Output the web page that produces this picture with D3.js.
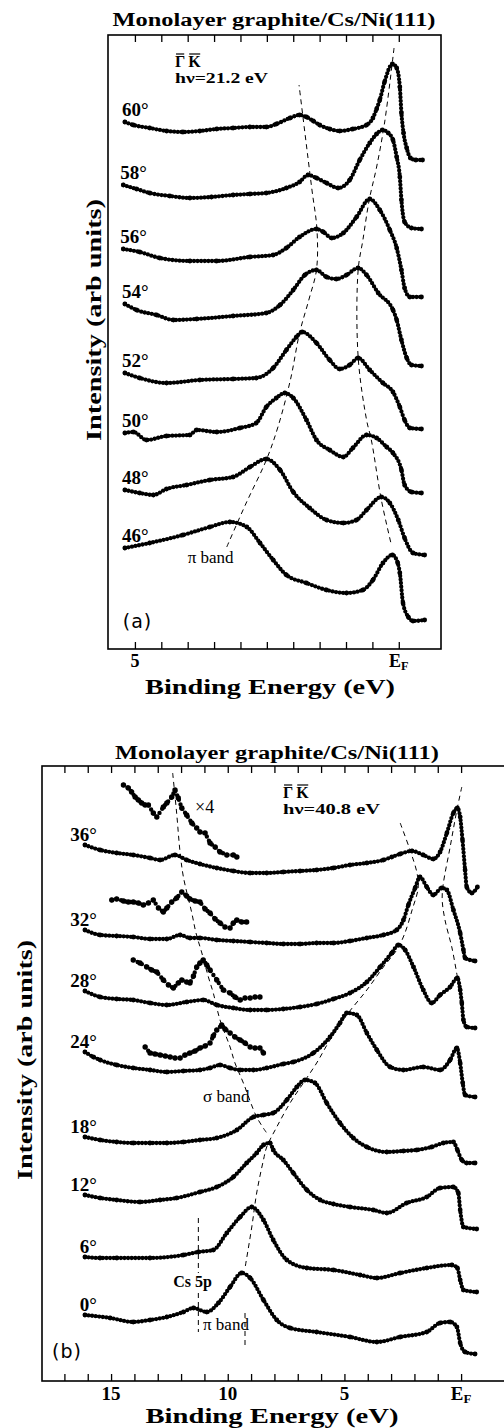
<!DOCTYPE html>
<html>
<head>
<meta charset="utf-8">
<script src="https://cdn.jsdelivr.net/npm/d3@7"></script>
<style>
  body { margin: 0; background: #fff; }
  svg { display: block; }
  .frame { fill: none; stroke: #000; stroke-width: 1.6; }
  .guide { fill: none; stroke: #000; stroke-width: 1; stroke-dasharray: 5,4; }
  .spec-core { fill: none; stroke: #000; stroke-width: 1.5; }
  .spec-beads { fill: none; stroke: #000; stroke-width: 4.3; stroke-linecap: round; stroke-dasharray: 0,3.6; }
  .inset-beads { fill: none; stroke: #000; stroke-width: 4.4; stroke-linecap: round; stroke-dasharray: 0,4.8; }
  .serif-b { font-family: 'Liberation Serif', serif; font-weight: bold; }
  .serif { font-family: 'Liberation Serif', serif; }
  .sans { font-family: 'DejaVu Sans', sans-serif; }
</style>
</head>
<body>
<svg id="fig" width="504" height="1428"></svg>
<script>

// ---- panel (a) : hv = 21.2 eV, [binding energy (eV), intensity (arb, stacked)]
var anglesA = ['60°', '58°', '56°', '54°', '52°', '50°', '48°', '46°'];

var a60 = [[5.19,527],[5.03,524],[4.72,521],[4.40,518],[4.09,517],[3.77,518],[3.45,520],[3.14,521],[2.82,522],[2.51,522],[2.32,525],[2.06,531],[1.88,534],[1.75,532],[1.62,528],[1.50,524],[1.31,520],[1.12,518],[0.87,520],[0.61,524],[0.49,531],[0.42,540],[0.36,549],[0.27,567],[0.12,585],[0.04,581],[-0.02,562],[-0.05,536],[-0.09,516],[-0.15,501],[-0.22,491],[-0.32,489],[-0.45,489]];
var a58 = [[5.22,464],[4.97,460],[4.72,456],[4.34,453],[3.96,451],[3.55,452],[3.14,454],[2.82,455],[2.51,456],[2.13,461],[1.88,467],[1.72,474],[1.56,471],[1.37,466],[1.15,461],[0.93,469],[0.74,489],[0.55,506],[0.42,515],[0.31,519],[0.20,516],[0.11,509],[0.04,492],[-0.02,472],[-0.05,449],[-0.11,427],[-0.24,421],[-0.43,420]];
var a56 = [[5.22,400],[4.91,397],[4.53,391],[3.96,388],[3.45,388],[2.82,392],[2.38,394],[2.13,401],[1.88,412],[1.56,420],[1.43,417],[1.27,411],[1.05,416],[0.80,432],[0.55,450],[0.36,439],[0.17,419],[0.04,401],[-0.05,379],[-0.11,361],[-0.21,352],[-0.43,352]];
var a54 = [[5.19,345],[4.97,339],[4.59,334],[4.27,329],[3.83,330],[3.14,333],[2.51,336],[2.25,344],[2.00,359],[1.78,374],[1.56,379],[1.37,372],[1.18,370],[0.99,374],[0.77,381],[0.61,374],[0.39,356],[0.11,339],[0.04,329],[-0.05,309],[-0.15,291],[-0.24,284],[-0.43,283]];
var a52 = [[5.19,276],[4.91,271],[4.40,266],[3.77,269],[3.14,270],[2.70,271],[2.38,281],[2.13,299],[1.94,312],[1.83,317],[1.56,306],[1.31,289],[1.12,280],[0.93,284],[0.77,291],[0.55,279],[0.30,266],[0.11,257],[-0.02,242],[-0.11,229],[-0.21,221],[-0.43,220]];
var a50 = [[5.19,216],[5.03,217],[4.78,209],[4.40,213],[3.96,214],[3.83,219],[3.45,217],[3.01,221],[2.70,226],[2.51,242],[2.32,251],[2.16,256],[2.00,251],[1.75,229],[1.56,209],[1.31,199],[1.05,192],[0.87,201],[0.61,214],[0.42,211],[0.23,202],[0.11,196],[-0.05,179],[-0.11,164],[-0.24,157],[-0.43,156]];
var a48 = [[5.19,159],[4.91,156],[4.65,154],[4.40,160],[4.02,164],[3.58,169],[3.14,172],[2.82,182],[2.51,190],[2.25,179],[2.00,157],[1.69,141],[1.37,129],[1.05,126],[0.80,129],[0.61,139],[0.33,152],[0.17,146],[0.01,129],[-0.11,111],[-0.27,96],[-0.49,94]];
var a46 = [[5.19,101],[4.72,106],[4.09,114],[3.58,122],[3.20,127],[2.88,122],[2.63,106],[2.38,89],[2.13,74],[1.75,66],[1.37,59],[0.99,56],[0.68,59],[0.49,69],[0.30,86],[0.12,94],[0.02,86],[-0.02,76],[-0.08,46],[-0.18,32],[-0.27,28],[-0.49,29]];
var spectraA = [a60, a58, a56, a54, a52, a50, a48, a46];

// dispersion guides (dashed)
var guideApi = [[3.26,102],[2.90,145],[2.51,189],[2.29,222],[2.05,270],[1.88,316],[1.70,350],[1.56,379],[1.55,419],[1.65,461],[1.89,564]];
var guideAef = [[0.09,601],[0.27,526],[0.42,482],[0.56,449],[0.68,409],[0.77,379],[0.77,292],[0.61,229],[0.52,209],[0.33,149],[0.14,104]];

var tickValsA = [5, 4.5, 4, 3.5, 3, 2.5, 2, 1.5, 1, 0.5, 0];
var tickLabelsA = [[5, '5'], [0, 'EF']];

// ---- panel (b) : hv = 40.8 eV
var anglesB = ['36°', '32°', '28°', '24°', '18°', '12°', '6°', '0°'];

var b36 = [[16.12,536],[15.47,531],[14.76,528],[14.05,526],[13.33,523],[12.90,521],[12.26,526],[11.76,521],[11.19,517],[10.47,513],[9.76,510],[9.04,508],[8.33,508],[7.62,509],[6.90,510],[6.19,511],[5.47,513],[4.76,516],[4.04,518],[3.33,521],[2.97,524],[2.61,527],[2.11,530],[1.62,526],[1.19,522],[0.90,529],[0.61,548],[0.33,568],[0.16,573],[0.04,564],[-0.06,541],[-0.17,511],[-0.24,494],[-0.46,488],[-0.70,494]];
var b32 = [[16.12,451],[15.47,446],[14.76,445],[14.05,444],[13.33,442],[12.61,442],[12.04,446],[11.62,443],[11.19,443],[10.47,441],[9.76,440],[9.04,439],[8.33,438],[7.62,437],[6.90,437],[6.19,438],[5.47,438],[4.76,440],[4.04,443],[3.33,446],[2.76,451],[2.47,461],[2.26,476],[1.97,493],[1.76,504],[1.47,494],[1.19,486],[0.83,493],[0.61,491],[0.33,471],[0.04,448],[-0.10,431],[-0.17,423],[-0.60,420]];
var b28 = [[16.12,390],[15.47,384],[14.76,382],[14.05,381],[13.33,378],[12.61,376],[11.76,379],[11.05,381],[10.47,376],[9.76,373],[9.04,371],[8.33,371],[7.62,372],[6.90,374],[6.19,377],[5.47,382],[4.76,388],[4.04,399],[3.47,414],[2.97,428],[2.69,436],[2.40,431],[2.04,414],[1.62,391],[1.26,378],[0.90,386],[0.47,394],[0.16,403],[0.04,391],[-0.03,378],[-0.10,361],[-0.24,354],[-0.60,353]];
var b24 = [[16.12,329],[15.76,324],[15.47,321],[14.76,316],[14.05,313],[13.33,311],[12.61,309],[11.90,310],[11.19,311],[10.76,313],[10.33,316],[9.90,313],[9.47,311],[8.90,311],[8.33,313],[7.62,317],[7.19,319],[6.33,328],[5.62,344],[5.19,358],[4.90,368],[4.47,366],[4.04,348],[3.61,331],[3.04,314],[2.47,311],[1.62,314],[0.90,311],[0.47,321],[0.18,333],[0.04,318],[-0.07,298],[-0.17,286],[-0.60,284]];
var b18 = [[16.12,244],[15.47,241],[14.76,239],[14.05,238],[13.33,238],[12.61,238],[11.90,239],[11.19,241],[10.47,243],[9.61,251],[8.90,264],[8.47,266],[8.05,268],[7.47,281],[7.04,294],[6.69,301],[6.26,298],[5.76,278],[5.19,258],[4.62,243],[4.04,234],[3.18,229],[2.47,230],[1.90,231],[1.26,234],[0.76,238],[0.33,239],[0.16,231],[-0.03,221],[-0.24,218],[-0.60,218]];
var b12 = [[16.12,186],[15.47,183],[14.76,181],[13.76,179],[12.90,181],[12.19,183],[11.19,189],[10.47,194],[9.76,204],[9.19,218],[8.76,228],[8.47,236],[8.19,238],[8.05,231],[7.62,221],[7.19,208],[6.61,191],[6.04,181],[5.47,177],[4.76,174],[3.76,171],[3.18,168],[2.33,178],[1.47,184],[0.90,193],[0.33,194],[0.12,188],[0.04,171],[-0.10,154],[-0.67,152]];
var b6 = [[16.12,124],[15.47,123],[14.76,123],[13.33,123],[11.90,126],[11.26,129],[10.62,131],[10.04,148],[9.47,164],[8.97,174],[8.47,161],[8.05,141],[7.47,121],[6.61,113],[5.47,111],[4.33,106],[3.61,103],[2.61,108],[1.47,113],[0.40,116],[0.16,113],[0.04,101],[-0.10,91],[-0.67,89]];
var b0 = [[16.12,66],[15.04,63],[14.05,59],[13.33,61],[12.61,64],[11.90,69],[11.47,73],[10.90,69],[10.40,78],[9.90,94],[9.40,108],[9.04,103],[8.47,81],[7.90,61],[7.33,53],[6.19,49],[4.76,44],[3.61,39],[2.61,44],[1.47,49],[0.90,58],[0.47,59],[0.18,54],[0.04,38],[-0.17,29],[-0.60,27]];
var spectraB = [b36, b32, b28, b24, b18, b12, b6, b0];

// x4 magnified sigma-band region
var x4b36 = [[14.47,596],[14.26,593],[14.12,589],[13.97,584],[13.83,581],[13.69,578],[13.54,576],[13.40,576],[13.19,568],[13.04,564],[12.76,574],[12.61,578],[12.40,584],[12.26,591],[12.12,583],[11.97,573],[11.76,566],[11.54,558],[11.33,553],[11.19,549],[10.97,548],[10.76,538],[10.54,534],[10.33,529],[10.04,526],[9.76,526],[9.61,524]];
var x4b32 = [[14.97,481],[14.76,482],[14.47,480],[14.26,479],[14.05,479],[13.83,478],[13.62,476],[13.40,478],[13.19,481],[12.97,473],[12.76,469],[12.61,473],[12.40,479],[12.19,483],[11.97,489],[11.76,485],[11.62,482],[11.40,480],[11.19,479],[10.97,472],[10.76,468],[10.54,462],[10.33,458],[10.12,454],[9.90,453],[9.76,458],[9.61,461],[9.40,459],[9.19,459]];
var x4b28 = [[14.05,421],[13.76,418],[13.47,414],[13.26,411],[13.04,409],[12.76,401],[12.54,396],[12.33,393],[12.12,398],[11.97,401],[11.76,399],[11.62,398],[11.47,405],[11.33,414],[11.19,418],[11.05,421],[10.90,416],[10.76,411],[10.47,401],[10.19,391],[9.90,388],[9.69,384],[9.47,381],[9.26,383],[9.04,383],[8.83,384],[8.62,384]];
var x4b24 = [[13.54,334],[13.33,328],[13.12,327],[12.90,326],[12.68,325],[12.47,324],[12.26,323],[12.04,323],[11.83,326],[11.62,328],[11.40,330],[11.19,333],[10.97,335],[10.76,338],[10.62,345],[10.47,351],[10.26,356],[10.12,352],[9.90,348],[9.69,344],[9.47,341],[9.26,338],[9.04,334],[8.83,333],[8.62,333],[8.47,328]];
var insetsB = [x4b36, x4b32, x4b28, x4b24];

var guideBsigma = [[12.36,608],[12.19,568],[12.04,528],[11.90,504],[11.54,468],[11.36,448],[11.11,428],[10.83,404],[10.62,388],[10.33,361],[9.90,334],[9.69,318],[9.33,298],[8.76,264],[8.33,248]];
var guideBpi = [[2.61,558],[2.19,531],[1.89,508],[1.84,493],[2.10,471],[2.44,446],[2.76,431],[3.33,414],[4.04,391],[4.90,366],[5.62,341],[6.19,318],[6.76,298],[7.33,278],[7.90,254],[8.33,234],[8.47,221],[8.76,188],[8.97,154],[9.26,113]];
var guideBpiTail = [[9.26,68],[9.26,36]];
var guideBef = [[-0.03,594],[0.18,571],[0.47,534],[0.77,496],[0.81,481],[0.69,461],[0.39,433],[0.16,404]];
var guideBcsTop = [[11.26,163],[11.26,108]];
var guideBcsLow = [[11.26,88],[11.26,49]];

var tickValsB = d3.range(0, 18, 1);
var tickLabelsB = [[15, '15'], [10, '10'], [5, '5'], [0, 'EF']];

// ---------------------------------------------------------------
var svg = d3.select('#fig');

var xA = d3.scaleLinear().domain([5.51, -0.80]).range([108, 441]);
var yA = d3.scaleLinear().domain([0, 614]).range([649, 35]);
var xB = d3.scaleLinear().domain([17.96, -2.01]).range([42, 508]);
var yB = d3.scaleLinear().domain([0, 615]).range([1381, 766]);

function addText(g, x, y, txt, cls, size) {
  return g.append('text')
    .attr('x', x)
    .attr('y', y)
    .attr('class', cls)
    .style('font-size', size + 'px')
    .text(txt);
}

// E_F label : E with a subscript F
function addTickLabel(g, x, y, txt, size) {
  var t = g.append('text')
    .attr('x', x)
    .attr('y', y)
    .attr('class', 'serif-b')
    .attr('text-anchor', 'middle')
    .style('font-size', size + 'px');
  if (txt === 'EF') {
    t.append('tspan').text('E');
    t.append('tspan').attr('dy', 3).style('font-size', (size * 0.68) + 'px').text('F');
  } else {
    t.text(txt);
  }
}

// Gamma-K label with overlines
function addGammaK(g, x, y, size) {
  var gam = addText(g, x, y, 'Γ', 'serif-b', size);
  var bb = gam.node().getBBox();
  var k = addText(g, bb.x + bb.width + 3, y, 'K', 'serif-b', size);
  [gam, k].forEach(function(t) {
    var b = t.node().getBBox();
    g.append('line')
      .attr('x1', b.x + 1).attr('x2', b.x + b.width - 1)
      .attr('y1', b.y + 1).attr('y2', b.y + 1)
      .attr('stroke', '#000').attr('stroke-width', 1.2);
  });
}

function drawFrame(g, x, y, ticks) {
  var x0 = x.range()[0], x1 = x.range()[1];
  var yb = y.range()[0], yt = y.range()[1];

  g.append('g')
    .attr('transform', 'translate(0,' + yb + ')')
    .call(d3.axisBottom(x).tickValues(ticks).tickSize(-7).tickFormat(''))
    .call(function(s) { s.select('.domain').remove(); });

  g.append('g')
    .attr('transform', 'translate(0,' + yt + ')')
    .call(d3.axisTop(x).tickValues(ticks).tickSize(-7).tickFormat(''))
    .call(function(s) { s.select('.domain').remove(); });

  g.selectAll('.tick line').attr('stroke-width', 1.3);

  g.append('rect')
    .attr('class', 'frame')
    .attr('x', x0).attr('y', yt)
    .attr('width', x1 - x0).attr('height', yb - yt);
}

function drawSpectra(g, x, y, series) {
  var line = d3.line()
    .x(function(d) { return x(d[0]); })
    .y(function(d) { return y(d[1]); })
    .curve(d3.curveMonotoneX);

  var sg = g.selectAll('.spectrum')
    .data(series)
    .enter().append('g')
    .attr('class', 'spectrum');

  sg.append('path').attr('class', 'spec-core').attr('d', line);
  sg.append('path').attr('class', 'spec-beads').attr('d', line);

  sg.selectAll('circle')
    .data(function(d) { return d; })
    .enter().append('circle')
    .attr('cx', function(d) { return x(d[0]); })
    .attr('cy', function(d) { return y(d[1]); })
    .attr('r', 2.4);
}

function drawGuides(g, x, y, guides) {
  var line = d3.line()
    .x(function(d) { return x(d[0]); })
    .y(function(d) { return y(d[1]); })
    .curve(d3.curveCatmullRom.alpha(0.5));

  g.selectAll('.guide')
    .data(guides)
    .enter().append('path')
    .attr('class', 'guide')
    .attr('d', line);
}

// ---------------- panel (a)
var gA = svg.append('g').attr('class', 'panelA');
drawFrame(gA, xA, yA, tickValsA);
drawGuides(gA, xA, yA, [guideApi, guideAef]);
drawSpectra(gA, xA, yA, spectraA);

gA.selectAll('.angle')
  .data(anglesA)
  .enter().append('text')
  .attr('class', 'angle serif-b')
  .attr('x', function(d, i) { return xA(spectraA[i][0][0]) - 3; })
  .attr('y', function(d, i) { return yA(spectraA[i][0][1]) - 6; })
  .style('font-size', '19px')
  .text(function(d) { return d; });

tickLabelsA.forEach(function(t) { addTickLabel(gA, xA(t[0]), 667, t[1], 18); });

addText(gA, 274, 26, 'Monolayer graphite/Cs/Ni(111)', 'serif-b', 18)
  .attr('text-anchor', 'middle').attr('textLength', 323).attr('lengthAdjust', 'spacingAndGlyphs');
addText(gA, 270, 694, 'Binding Energy (eV)', 'serif-b', 21)
  .attr('text-anchor', 'middle').attr('textLength', 250).attr('lengthAdjust', 'spacingAndGlyphs');
addText(gA, 0, 0, 'Intensity (arb units)', 'serif-b', 21)
  .attr('text-anchor', 'middle').attr('textLength', 242).attr('lengthAdjust', 'spacingAndGlyphs')
  .attr('transform', 'translate(101,320) rotate(-90)');

addGammaK(gA, xA(4.24), yA(582), 16);
addText(gA, xA(4.24), yA(566), 'hν=21.2 eV', 'serif-b', 15)
  .attr('textLength', 93).attr('lengthAdjust', 'spacingAndGlyphs');
addText(gA, xA(4.00), yA(86), 'π band', 'serif', 17);
addText(gA, xA(5.23), yA(21), '(a)', 'sans', 19).style('letter-spacing', '1px');

// ---------------- panel (b)
var gB = svg.append('g').attr('class', 'panelB');
drawFrame(gB, xB, yB, tickValsB);
drawGuides(gB, xB, yB, [guideBsigma, guideBpi, guideBpiTail, guideBef, guideBcsTop, guideBcsLow]);
drawSpectra(gB, xB, yB, spectraB);

// x4 insets: scattered points
var insetLine = d3.line()
  .x(function(d) { return xB(d[0]); })
  .y(function(d) { return yB(d[1]); });

var ig = gB.selectAll('.inset')
  .data(insetsB)
  .enter().append('g')
  .attr('class', 'inset');

ig.append('path').attr('class', 'inset-beads').attr('d', insetLine);
ig.selectAll('circle')
  .data(function(d) { return d; })
  .enter().append('circle')
  .attr('cx', function(d) { return xB(d[0]); })
  .attr('cy', function(d) { return yB(d[1]); })
  .attr('r', 2.7);

gB.selectAll('.angle')
  .data(anglesB)
  .enter().append('text')
  .attr('class', 'angle serif-b')
  .attr('text-anchor', 'end')
  .attr('x', function(d, i) { return xB(spectraB[i][0][0]) + 12; })
  .attr('y', function(d, i) { return yB(spectraB[i][0][1]) - 4; })
  .style('font-size', '19px')
  .text(function(d) { return d; });

tickLabelsB.forEach(function(t) { addTickLabel(gB, xB(t[0]), 1400, t[1], 19); });

addText(gB, 277, 759, 'Monolayer graphite/Cs/Ni(111)', 'serif-b', 18)
  .attr('text-anchor', 'middle').attr('textLength', 324).attr('lengthAdjust', 'spacingAndGlyphs');
addText(gB, 272, 1423, 'Binding Energy (eV)', 'serif-b', 21)
  .attr('text-anchor', 'middle').attr('textLength', 253).attr('lengthAdjust', 'spacingAndGlyphs');
addText(gB, 0, 0, 'Intensity (arb units)', 'serif-b', 21)
  .attr('text-anchor', 'middle').attr('textLength', 240).attr('lengthAdjust', 'spacingAndGlyphs')
  .attr('transform', 'translate(32,1060) rotate(-90)');

addGammaK(gB, xB(7.63), yB(583), 16);
addText(gB, xB(7.63), yB(567), 'hν=40.8 eV', 'serif-b', 15)
  .attr('textLength', 97).attr('lengthAdjust', 'spacingAndGlyphs');
addText(gB, xB(11.40), yB(568), '×4', 'serif', 18);
addText(gB, xB(11.06), yB(279), 'σ band', 'serif', 17);
addText(gB, xB(12.34), yB(94), 'Cs 5p', 'serif-b', 16);
addText(gB, xB(11.06), yB(51), 'π band', 'serif', 17);
addText(gB, xB(17.53), yB(23), '(b)', 'sans', 19).style('letter-spacing', '1px');

</script>
</body>
</html>
